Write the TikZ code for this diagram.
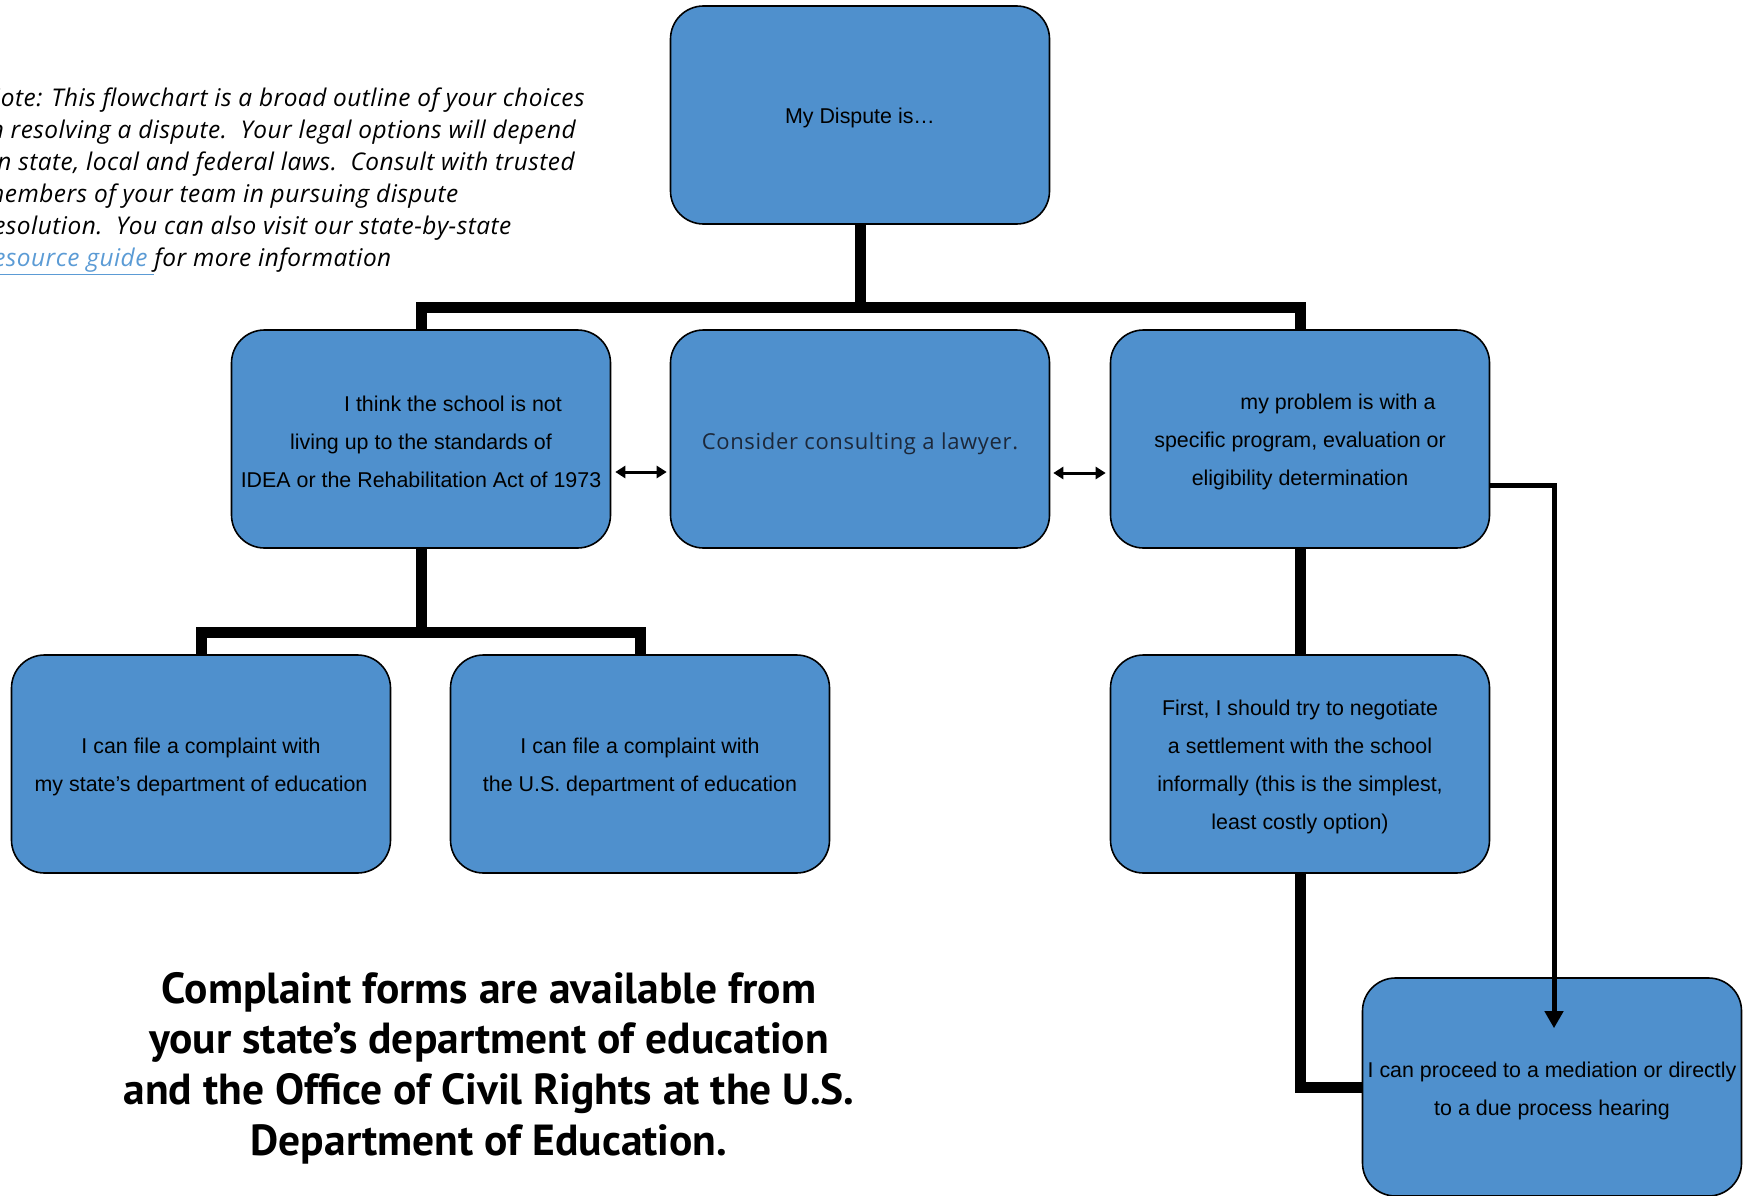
\documentclass[tikz,border=0pt]{standalone}
\usepackage{fontspec}
\setmainfont{Liberation Sans}
\newfontfamily\notefont{Open Sans}[LetterSpace=2]
\newfontfamily\formfont{PT Sans}
\newfontfamily\lawfont[LetterSpace=3]{Open Sans}
\usetikzlibrary{arrows.meta}
\definecolor{boxblue}{RGB}{79,144,205}
\definecolor{linkblue}{RGB}{91,155,213}
\definecolor{lawtext}{RGB}{28,40,58}
\newcommand{\fl}{\rule{0pt}{21.5pt}}
\begin{document}
\begin{tikzpicture}[x=1pt,y=-1pt,
  box/.style={draw=black, line width=1.6pt, fill=boxblue, rounded corners=33pt,
    minimum width=379pt, minimum height=218pt, inner sep=0pt, align=center,
    font=\fontsize{21.4}{38.3}\selectfont},
  trunk/.style={line width=11pt},
  thinarrow/.style={line width=5pt, -{Triangle[width=18pt,length=17pt]}},
  dblarrow/.style={line width=3pt, {Triangle[width=12pt,length=10pt]}-{Triangle[width=12pt,length=10pt]}}
]
\useasboundingbox (0,0) rectangle (1750,1196);

\node[box] (T) at (860,115) {\fl My Dispute is…};
\node[box] (L) at (421,439) {\fl\hspace*{64pt}I think the school is not\\ living up to the standards of\\ IDEA or the Rehabilitation Act of 1973};
\node[box, font=\lawfont\fontsize{22}{26}\selectfont, text=lawtext] (M) at (860,439) {\rule{0pt}{26pt}Consider consulting a lawyer.};
\node[box] (R) at (1300,439) {\fl\hspace*{76pt}my problem is with a\\ specific program, evaluation or\\ eligibility determination};
\node[box] (A) at (201,764) {\fl I can file a complaint with\\ my state’s department of education};
\node[box] (B) at (640,764) {\fl I can file a complaint with\\ the U.S. department of education};
\node[box] (C) at (1300,764) {\fl First, I should try to negotiate\\ a settlement with the school\\ informally (this is the simplest,\\ least costly option)};
\node[box] (N) at (1552,1087) {\rule{0pt}{24pt}I can proceed to a mediation or directly\\ to a due process hearing};

\coordinate (j1) at (860,307);
\coordinate (j2) at (421,632);
\draw[trunk] (T.south) -- (j1);
\draw[trunk] (L.north) |- (j1) -| (R.north);
\draw[trunk] (L.south) -- (j2);
\draw[trunk] (A.north) |- (j2) -| (B.north);
\draw[trunk] (R.south) -- (C.north);
\draw[trunk] (C.south) |- (N.west);
\draw[thinarrow] ([yshift=-46pt]R.east) -| ([xshift=2pt,yshift=-51pt]N.north);
\draw[dblarrow, shorten <=4pt, shorten >=3pt] ([yshift=-33pt]L.east) -- ([yshift=-33pt]M.west);
\draw[dblarrow, shorten <=3pt, shorten >=4pt] ([yshift=-34pt]M.east) -- ([yshift=-34pt]R.west);

\node[anchor=north west, inner sep=0pt, align=left,
  font=\notefont\itshape\fontsize{24.4}{32}\selectfont] (note) at (-17,88)
  {Note: This flowchart is a broad outline of your choices\\
   in resolving a dispute.\ \ Your legal options will depend\\
   on state, local and federal laws.\ \ Consult with trusted\\
   members of your team in pursuing dispute\\
   resolution.\ \ You can also visit our state-by-state\\
   {\color{linkblue}\underline{resource guide\ }}for more information};

\node[align=center, inner sep=0pt,
  font=\formfont\bfseries\fontsize{43.5}{50.6}\selectfont] (forms) at (489,1068)
  {Complaint forms are available from\\
   your state’s department of education\\
   and the Office of Civil Rights at the U.S.\\
   Department of Education.};
\end{tikzpicture}
\end{document}
